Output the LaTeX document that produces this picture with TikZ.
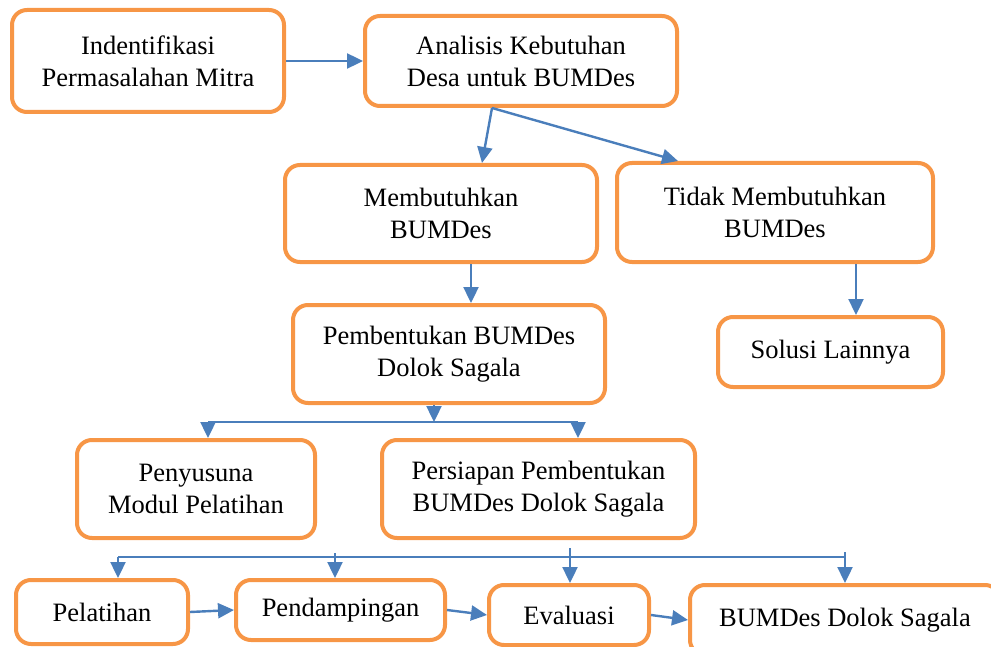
\documentclass[tikz,border=0pt]{standalone}
\usepackage{fontspec}
\setmainfont{Liberation Serif}
\usetikzlibrary{arrows.meta,positioning}
\definecolor{boxorange}{HTML}{F79646}
\definecolor{linkblue}{HTML}{4A7EBB}

\begin{document}
\begin{tikzpicture}[x=0.5pt,y=-0.5pt,
    box/.style={draw=boxorange, line width=2pt, rounded corners=7.5pt, fill=white, align=center, inner sep=2pt, font=\fontsize{13.25}{16}\selectfont},
    link/.style={draw=linkblue, line width=1.2pt},
    arr/.style={link, -{Triangle[length=8pt,width=7.5pt]}}]
  \useasboundingbox (0,0) rectangle (991,647);

  % first row
  \node[box, minimum width=136pt, minimum height=51pt] (ident) at (148,61) {Indentifikasi\\Permasalahan Mitra};
  \node[box, minimum width=156pt, minimum height=45pt] (anal) at (521,61) {Analisis Kebutuhan\\Desa untuk BUMDes};
  \draw[arr] (ident.east) -- (anal.west);

  % need / no need
  \node[box, minimum width=156pt, minimum height=48.5pt] (butuh) at (441,213.5) {Membutuhkan\\BUMDes};
  \node[box, minimum width=158pt, minimum height=49.5pt] (tidak) at (775,212.5) {Tidak Membutuhkan\\BUMDes};
  \coordinate (b1) at (492,0);
  \coordinate (t1) at (482,0);
  \coordinate (t2) at (678,0);
  \draw[arr] (anal.south -| b1) -- (butuh.north -| t1);
  \draw[arr] (anal.south -| b1) -- (tidak.north -| t2);

  \node[box, minimum width=156pt, minimum height=49pt] (bentuk) at (449,354) {Pembentukan BUMDes\\Dolok Sagala};
  \node[box, minimum width=112.5pt, minimum height=35pt] (solusi) at (830.5,352) {Solusi Lainnya};
  \coordinate (v1) at (471,0);
  \coordinate (v2) at (856,0);
  \draw[arr] (butuh.south -| v1) -- (bentuk.north -| v1);
  \draw[arr] (tidak.south -| v2) -- (solusi.north -| v2);

  % split below Pembentukan
  \node[box, minimum width=119pt, minimum height=49pt] (modul) at (196,489) {Penyusuna\\Modul Pelatihan};
  \node[box, minimum width=156.5pt, minimum height=49pt] (siap) at (538.5,489) {Persiapan Pembentukan\\BUMDes Dolok Sagala};
  \coordinate (j1) at (434,422);
  \coordinate (j1l) at (208,422);
  \coordinate (j1r) at (578,422);
  \draw[arr] (bentuk.south -| j1) -- (j1);
  \draw[link] (j1l) -- (j1r);
  \draw[arr] (j1l) -- (modul.north -| j1l);
  \draw[arr] (j1r) -- (siap.north -| j1r);

  % last row
  \node[box, minimum width=86pt, minimum height=32pt] (latih) at (102,612) {Pelatihan};
  \node[box, minimum width=104.5pt, minimum height=30pt] (damping) at (340.5,610) {Pendampingan};
  \node[box, minimum width=80pt, minimum height=30pt] (eval) at (569,615) {Evaluasi};
  \node[box, minimum width=155pt, minimum height=35pt] (hasil) at (845,620) {BUMDes Dolok Sagala};
  \draw[arr] (latih.east) -- (damping.west);
  \draw[arr] (damping.east) -- (eval.west);
  \draw[arr] (eval.east) -- (hasil.west);

  \coordinate (busL) at (118,557);
  \coordinate (busR) at (845,557);
  \coordinate (tk2) at (335,553);
  \coordinate (tk3) at (570,548);
  \coordinate (tk4) at (845,552);
  \draw[link] (busL) -- (busR);
  \draw[arr] (busL) -- (latih.north -| busL);
  \draw[arr] (tk2) -- (damping.north -| tk2);
  \draw[arr] (tk3) -- (eval.north -| tk3);
  \draw[arr] (tk4) -- (hasil.north -| tk4);
\end{tikzpicture}
\end{document}
